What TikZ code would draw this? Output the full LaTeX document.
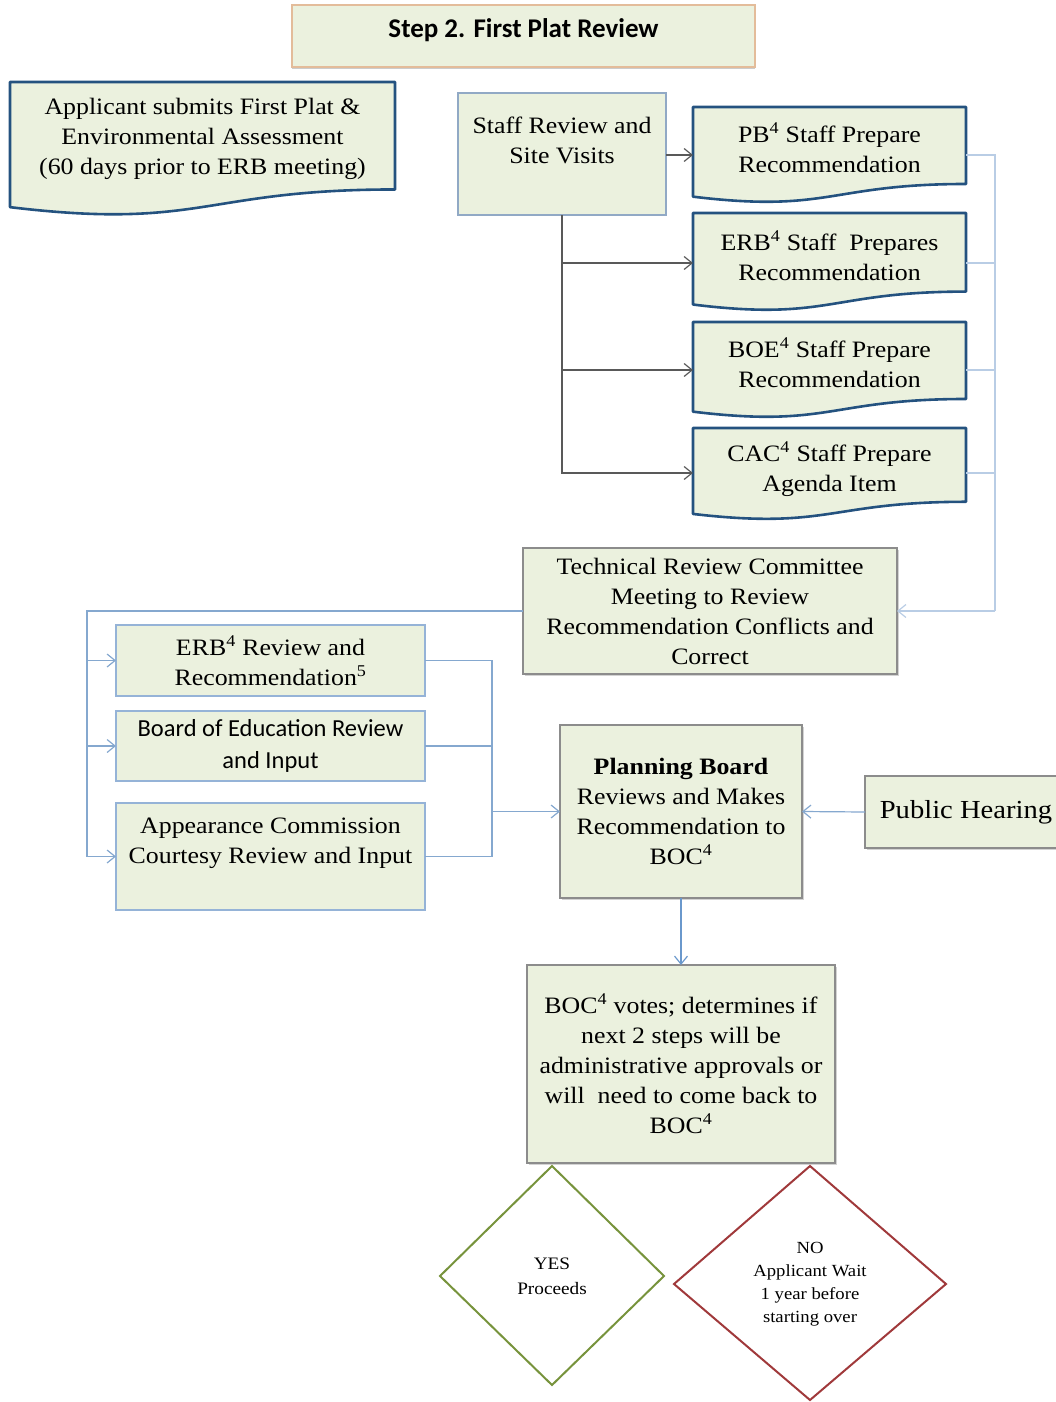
\documentclass[tikz,border=0pt]{standalone}
\usepackage{fontspec}
\setmainfont[FakeStretch=1.1]{Liberation Serif}
\newfontfamily\calib{Carlito}
\usetikzlibrary{arrows.meta,shadows,calc}
\definecolor{boxfill}{HTML}{EBF1DE}
\definecolor{docblue}{HTML}{24527F}
\definecolor{grayedge}{HTML}{8C8C8C}
\definecolor{lblue}{HTML}{95B3D7}
\definecolor{busblue}{HTML}{B9CDE5}
\definecolor{leftblue}{HTML}{85A8CF}
\definecolor{titleedge}{HTML}{E3BC9A}
\definecolor{yesc}{HTML}{77933C}
\definecolor{noc}{HTML}{A0393B}
\definecolor{darkconn}{HTML}{595959}
\definecolor{downblue}{HTML}{6A98CC}
\newcommand\docpath[4]{%
  \path[docline] (#1,#2) -- (#3,#2) -- (#3,{#2+0.802*#4})
    .. controls ({(#1+#3)/2},{#2+0.802*#4}) and ({(#1+#3)/2},{#2+1.107*#4}) ..
    (#1,{#2+0.934*#4}) -- cycle;}
\newcommand\sq{\textsuperscript{4}}
\begin{document}
\begin{tikzpicture}[x=1pt,y=-1pt, font=\fontsize{23.5}{30}\selectfont,
  every node/.style={align=center, inner sep=0pt, outer sep=0pt},
  graybox/.style={draw=grayedge, fill=boxfill, line width=1.2pt,
    drop shadow={shadow xshift=1.5pt,shadow yshift=-2pt,opacity=0.35}},
  bluebox/.style={draw=lblue, fill=boxfill, line width=1.3pt},
  docline/.style={draw=docblue, fill=boxfill, line width=2.6pt, line join=round},
  conn/.style={line width=1.2pt},
  arr/.style={conn, -{Straight Barb[length=8pt,width=13pt,line width=1.2pt]}},
]
\useasboundingbox (0,0) rectangle (1056,1402);
\clip (0,0) rectangle (1056,1402);

% title
\node[draw=titleedge, fill=boxfill, line width=1.5pt,
  drop shadow={shadow xshift=0pt,shadow yshift=-2.5pt,opacity=0.4},
  minimum width=463, minimum height=62] (title) at (523.5,36) {};
\node[font=\calib\bfseries\fontsize{27}{30}\selectfont] (titleT) at (523.5,30) {Step 2. First Plat Review};

% applicant document
\docpath{10}{82}{395}{134}
\node (appl) at (202.5,139)
  {Applicant submits First Plat \&\\ Environmental Assessment\\ (60 days prior to ERB meeting)};

% staff review
\node[draw=lblue!80!gray, fill=boxfill, line width=1.3pt, minimum width=208, minimum height=122]
  (staff) at (562,154) {};
\node (staffT) at (562,140) {Staff Review and\\ Site Visits};

% staff documents
\docpath{693}{107}{966}{96}
\node[minimum width=273, minimum height=96] (pbdoc) at (829.5,155) {};
\node (pbT) at (829.5,148) {PB\sq{} Staff Prepare\\ Recommendation};
\docpath{693}{213}{966}{98}
\node[minimum width=273, minimum height=98] (erbdoc) at (829.5,263) {};
\node (erbT) at (829.5,256) {ERB\sq{} Staff~ Prepares\\ Recommendation};
\docpath{693}{322}{966}{96}
\node[minimum width=273, minimum height=96] (boedoc) at (829.5,370) {};
\node (boeT) at (829.5,363) {BOE\sq{} Staff Prepare\\ Recommendation};
\docpath{693}{428}{966}{92}
\node[minimum width=273, minimum height=92] (cacdoc) at (829.5,473) {};
\node (cacT) at (829.5,469) {CAC\sq{} Staff Prepare\\ Agenda Item};

% TRC
\node[graybox, minimum width=374, minimum height=126] (trc) at (710,611)
  {Technical Review Committee\\ Meeting to Review\\ Recommendation Conflicts and\\ Correct};

% left boxes
\node[bluebox, minimum width=309, minimum height=71] (erbr) at (270.5,660.5)
  {ERB\sq{} Review and\\ Recommendation\textsuperscript{5}};
\node[bluebox, minimum width=309, minimum height=70, font=\calib\fontsize{24.5}{32}\selectfont]
  (boe) at (270.5,746) {Board of Education Review\\ and Input};
\node[bluebox, minimum width=309, minimum height=107] (app) at (270.5,856.5) {};
\node (appT) at (270.5,843) {Appearance Commission\\ Courtesy Review and Input};

% planning board
\node[graybox, minimum width=242, minimum height=173] (plan) at (681,811.5)
  {\textbf{Planning Board}\\ Reviews and Makes\\ Recommendation to\\ BOC\sq};

% public hearing
\node[graybox, minimum width=205, minimum height=72] (ph) at (967.5,812) {};
\node[font=\fontsize{26}{30}\selectfont] (phT) at (966,812) {Public Hearing};

% BOC votes
\node[graybox, minimum width=308, minimum height=198] (bocv) at (681,1064)
  {BOC\sq{} votes; determines if\\ next 2 steps will be\\ administrative approvals or\\ will~ need to come back to\\ BOC\sq};

% diamonds
\path[draw=yesc, line width=2pt] (552,1166) -- (664,1276) -- (552,1385) -- (440,1276) -- cycle;
\node[font=\fontsize{17.5}{25}\selectfont] (yes) at (552,1276) {YES\\ Proceeds};
\path[draw=noc, line width=2pt] (810,1166) -- (946,1284) -- (810,1400) -- (674,1284) -- cycle;
\node[font=\fontsize{17}{23}\selectfont] (no) at (810,1284) {NO\\ Applicant Wait\\ 1 year before\\ starting over};

% connectors: staff
\draw[arr, darkconn] (staff.east |- pbdoc.west) -- (pbdoc.west);
\draw[arr, darkconn] (staff.south) |- (cacdoc.west);
\draw[arr, darkconn] (staff.south |- erbdoc.west) -- (erbdoc.west);
\draw[arr, darkconn] (staff.south |- boedoc.west) -- (boedoc.west);

% right bus
\coordinate (busR) at (995,611);
\draw[conn, busblue] (pbdoc.east) -| (busR);
\draw[conn, busblue] (erbdoc.east) -| (busR);
\draw[conn, busblue] (boedoc.east) -| (busR);
\draw[conn, busblue] (cacdoc.east) -| (busR);
\draw[arr, busblue] (busR) -- (trc.east);

% left bus
\coordinate (busL) at (87,611);
\draw[conn, leftblue] (trc.west) -- (busL) |- (app.west);
\draw[arr, leftblue] (busL |- erbr.west) -- (erbr.west);
\draw[arr, leftblue] (busL |- boe.west) -- (boe.west);
\draw[arr, leftblue] (busL |- app.west) -- (app.west);

% bus to planning board
\coordinate (busM) at (492,811.5);
\draw[conn, leftblue] (erbr.east) -| (busM |- app.east) -- (app.east);
\draw[conn, leftblue] (boe.east) -- (busM |- boe.east);
\draw[arr, leftblue] (busM) -- (plan.west);

% public hearing and BOC
\draw[arr, leftblue] (ph.west) -- (plan.east);
\draw[arr, downblue] (plan.south) -- (bocv.north);
\end{tikzpicture}
\end{document}
